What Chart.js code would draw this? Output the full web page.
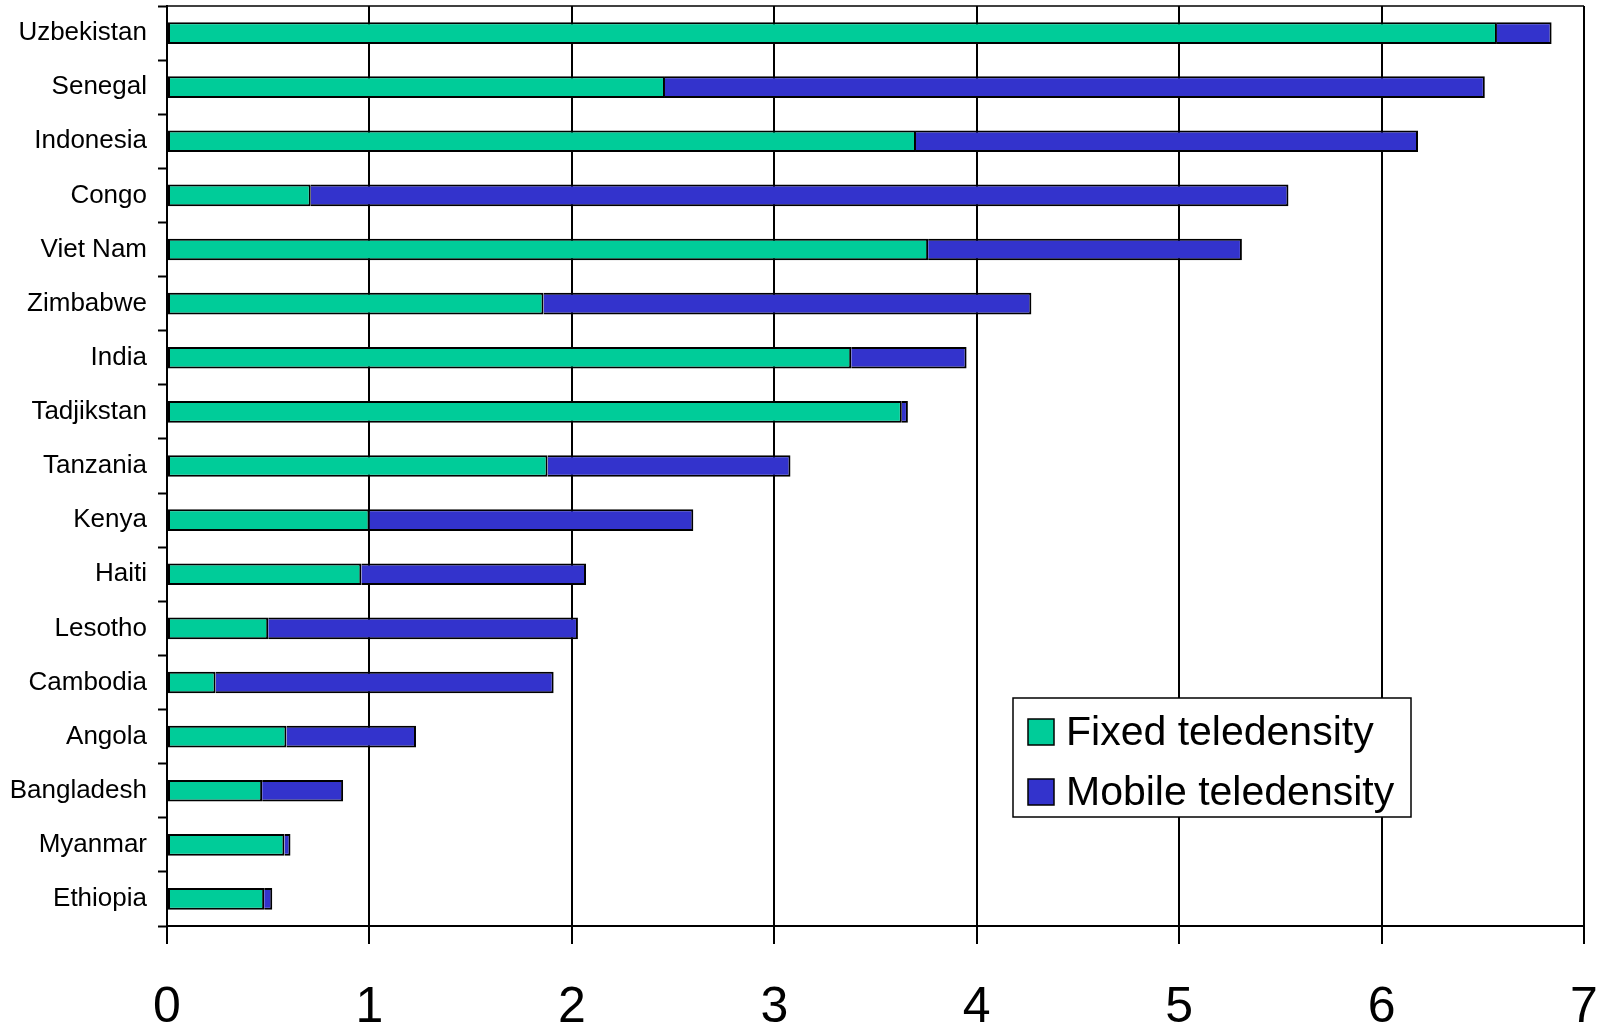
<!DOCTYPE html>
<html>
<head>
<meta charset="utf-8">
<script src="https://cdn.jsdelivr.net/npm/chart.js@4/dist/chart.umd.min.js"></script>
<style>
  html, body { margin: 0; padding: 0; background: #fff; }
  #wrap { width: 1610px; height: 1030px; }
</style>
</head>
<body>
<div id="wrap"><canvas id="teleChart" width="1610" height="1030"></canvas></div>
<script>
// countries, top to bottom
const countries = ['Uzbekistan', 'Senegal', 'Indonesia', 'Congo', 'Viet Nam', 'Zimbabwe', 'India',
  'Tadjikstan', 'Tanzania', 'Kenya', 'Haiti', 'Lesotho', 'Cambodia', 'Angola', 'Bangladesh',
  'Myanmar', 'Ethiopia'];
const fixedTeledensity = [6.57, 2.46, 3.70, 0.71, 3.76, 1.86, 3.38, 3.63, 1.88, 1.00, 0.96, 0.50, 0.24, 0.59, 0.47, 0.58, 0.48];
const mobileTeledensity = [0.27, 4.05, 2.48, 4.83, 1.55, 2.41, 0.57, 0.03, 1.20, 1.60, 1.11, 1.53, 1.67, 0.64, 0.40, 0.03, 0.04];
const xTicks = [0, 1, 2, 3, 4, 5, 6, 7];

const FONT = '"Liberation Sans", Arial, sans-serif';

// frame on top + legend box inside the plot
const framePlugin = {
  id: 'frameAndLegend',
  afterDraw(chart) {
    const c = chart.ctx, a = chart.chartArea;
    c.save();
    c.strokeStyle = '#000';
    c.lineWidth = 1.5;
    c.beginPath();
    c.moveTo(a.left, a.top);
    c.lineTo(a.right, a.top);
    c.stroke();

    // legend
    const bx = 1013, by = 698, bw = 398, bh = 119;
    c.fillStyle = '#fff';
    c.fillRect(bx, by, bw, bh);
    c.lineWidth = 1.5;
    c.strokeRect(bx, by, bw, bh);
    c.font = '41px ' + FONT;
    c.textBaseline = 'middle';
    chart.data.datasets.forEach((ds, i) => {
      const cy = 732 + i * 60;
      c.fillStyle = ds.backgroundColor;
      c.fillRect(1028, cy - 13, 26, 26);
      c.strokeStyle = '#000';
      c.lineWidth = 1.5;
      c.strokeRect(1028, cy - 13, 26, 26);
      c.fillStyle = '#000';
      c.fillText(ds.label, 1066, cy + 2);
    });
    c.restore();
  }
};

new Chart(document.getElementById('teleChart'), {
  type: 'bar',
  data: {
    labels: countries,
    datasets: [{
      label: 'Fixed teledensity',
      data: fixedTeledensity,
      backgroundColor: '#00CC99',
      borderColor: '#000',
      borderWidth: 2,
      borderSkipped: false,
      barPercentage: 0.4,
      categoryPercentage: 1.0
    }, {
      label: 'Mobile teledensity',
      data: mobileTeledensity,
      backgroundColor: '#3333CC',
      borderColor: '#000',
      borderWidth: 2,
      borderSkipped: 'start',
      barPercentage: 0.4,
      categoryPercentage: 1.0
    }]
  },
  options: {
    indexAxis: 'y',
    responsive: false,
    animation: false,
    layout: { padding: { left: 0, right: 26, top: 6, bottom: 0 } },
    plugins: { legend: { display: false }, tooltip: { enabled: false } },
    scales: {
      x: {
        stacked: true,
        min: 0,
        max: 7,
        afterBuildTicks: (s) => { s.ticks = xTicks.map(v => ({ value: v })); },
        afterFit: (s) => { s.height = 104; s.paddingLeft = 0; s.paddingRight = 0; },
        grid: { color: '#000', lineWidth: 2, tickLength: 18, tickColor: '#000', tickWidth: 2 },
        border: { color: '#000', width: 2 },
        ticks: { color: '#000', font: { family: FONT, size: 50 }, padding: 34, maxRotation: 0 }
      },
      y: {
        stacked: true,
        afterFit: (s) => { s.width = 167; s.paddingTop = 0; s.paddingBottom = 0; },
        grid: { offset: true, drawOnChartArea: false, tickLength: 9, tickColor: '#000', tickWidth: 2 },
        border: { color: '#000', width: 2 },
        ticks: { color: '#000', font: { family: FONT, size: 26 }, padding: 11, autoSkip: false }
      }
    }
  },
  plugins: [framePlugin]
});
</script>
</body>
</html>
